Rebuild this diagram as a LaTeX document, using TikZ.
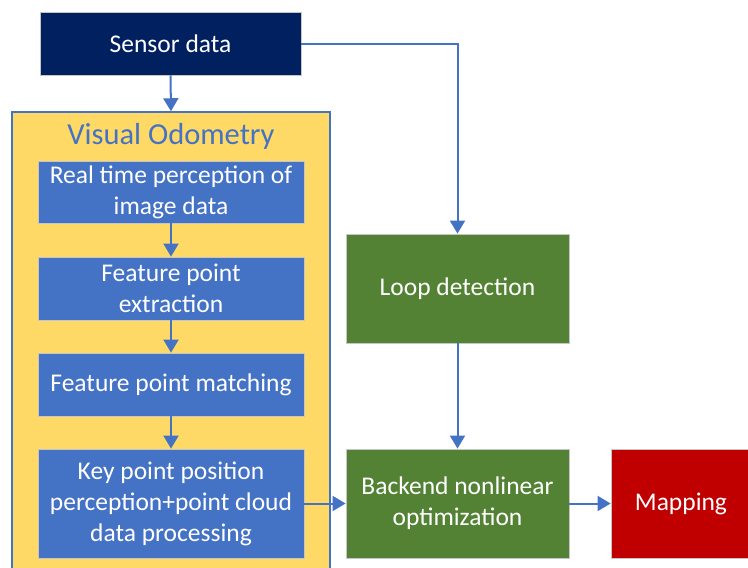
\documentclass[tikz,border=0pt]{standalone}
\usepackage{fontspec}
\setmainfont{Carlito}
\usetikzlibrary{arrows.meta}
\definecolor{navy}{HTML}{002060}
\definecolor{vyellow}{HTML}{FFD966}
\definecolor{vblue}{HTML}{4472C4}
\definecolor{vgreen}{HTML}{548235}
\definecolor{vred}{HTML}{C00000}
\tikzset{
  block/.style={draw=gray!45, line width=0.8pt, text=white, align=center,
    font=\fontsize{25.5}{31}\selectfont, inner sep=0pt},
  flow/.style={vblue, line width=2pt, -{Triangle[width=15pt,length=13pt]}}
}
\begin{document}
\begin{tikzpicture}[x=1pt,y=-1pt]
			\useasboundingbox (0,0) rectangle (748,568);
			% sensor input
			\node[block, fill=navy, minimum width=261pt, minimum height=63pt] (sensor) at (170.5,43.5) {Sensor data};
			% visual odometry frame
			\node[draw=vblue, line width=1.5pt, fill=vyellow, minimum width=318pt, minimum height=462pt, inner sep=0pt] (vo) at (171,343) {};
			\node[text=vblue, font=\fontsize{30.5}{36}\selectfont] (votitle) at (171,136) {Visual Odometry};
			\node[block, fill=vblue, minimum width=266pt, minimum height=62pt] (perc) at (171,192) {Real time perception of\\image data};
			\node[block, fill=vblue, minimum width=266pt, minimum height=63pt] (extr) at (171,288.5) {Feature point\\extraction};
			\node[block, fill=vblue, minimum width=266pt, minimum height=63pt] (match) at (171,384.5) {Feature point matching};
			\node[block, fill=vblue, minimum width=266pt, minimum height=109pt] (keyp) at (171,503.5) {Key point position\\perception+point cloud\\data processing};
			% back end
			\node[block, fill=vgreen, minimum width=223pt, minimum height=109pt] (loop) at (457.5,288.5) {Loop detection};
			\node[block, fill=vgreen, minimum width=223pt, minimum height=109pt] (backend) at (457.5,503.5) {Backend nonlinear\\optimization};
			\node[block, fill=vred, minimum width=140pt, minimum height=109pt] (mapping) at (681,503.5) {Mapping};
			% connectors
			\draw[flow] (sensor.south) -- (vo.north);
			\draw[flow] (perc) -- (extr);
			\draw[flow] (extr) -- (match);
			\draw[flow] (match) -- (keyp);
			\draw[flow] (sensor.east) -| (loop.north);
			\draw[flow] (loop) -- (backend);
			\draw[flow] (keyp) -- (backend);
			\draw[flow] (backend) -- (mapping);
			\end{tikzpicture}
\end{document}
